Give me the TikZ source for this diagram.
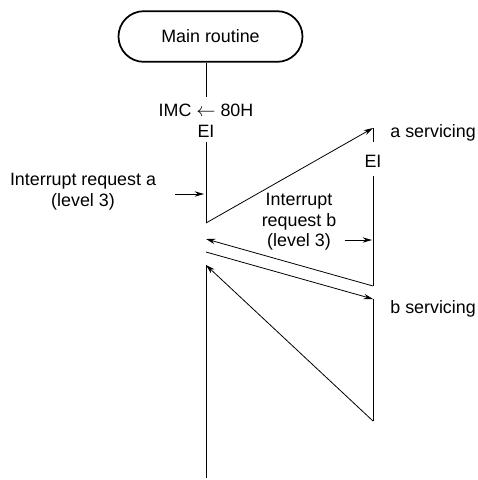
\documentclass[tikz,border=0pt]{standalone}
\usepackage{fontspec}
\setmainfont{Liberation Sans}
\usetikzlibrary{arrows.meta}

\begin{document}
\begin{tikzpicture}[
    x=0.75pt, y=-0.75pt,
    every path/.style = {line width=0.6pt},
    term/.style = {rectangle, draw, line width=1.3pt, rounded corners=19pt,
                   minimum width=138pt, minimum height=38pt,
                   font=\fontsize{13.4}{15}\selectfont},
    lbl/.style  = {inner sep=0pt, align=center,
                   font=\fontsize{13.4}{15.5}\selectfont},
    arr/.style  = {-{Stealth[length=7pt, width=4pt]}}
]
\useasboundingbox (0,0) rectangle (478,480);

% Main routine
\node[term] (main) at (210.5,36.5) {Main routine};
\node[lbl] (imc) at (206,110) {IMC $\leftarrow$ 80H};
\node[lbl] (ei1) at (206,131) {EI};

% Service routines
\node[lbl, anchor=west] (asrv) at (390,133) {a servicing};
\node[lbl] (ei2) at (373,161) {EI};
\node[lbl, anchor=west] (bsrv) at (390,309) {b servicing};

% Interrupt labels
\node[lbl] (ira) at (83,192) {Interrupt request a\\(level 3)};
\node[lbl] (irb) at (299,222) {Interrupt\\request b\\(level 3)};

% Turning points
\coordinate (m0) at (206,97);
\coordinate (m1) at (206,142);
\coordinate (m2) at (206,223);
\coordinate (m3) at (206,239);
\coordinate (m4) at (206,252);
\coordinate (m5) at (206,265);
\coordinate (m6) at (206,478);
\coordinate (a0) at (373,128);
\coordinate (a1) at (373,142);
\coordinate (a2) at (373,176);
\coordinate (a3) at (373,286);
\coordinate (b0) at (373,299);
\coordinate (b1) at (373,421);
\coordinate (ia0) at (175,194);
\coordinate (ia1) at (204,194);
\coordinate (ib0) at (345,240);
\coordinate (ib1) at (372,240);

% Main line
\draw (main.south -| m0) -- (m0);
\draw (m1) -- (m2);
\draw (m5) -- (m6);

% a servicing
\draw[arr] (m2) -- (a0);
\draw (a0) -- (a1);
\draw (a2) -- (a3);
\draw[arr] (a3) -- (m3);

% b servicing
\draw[arr] (m4) -- (b0);
\draw (b0) -- (b1);
\draw[arr] (b1) -- (m5);

% Requests
\draw[arr] (ia0) -- (ia1);
\draw[arr] (ib0) -- (ib1);
\end{tikzpicture}
\end{document}
